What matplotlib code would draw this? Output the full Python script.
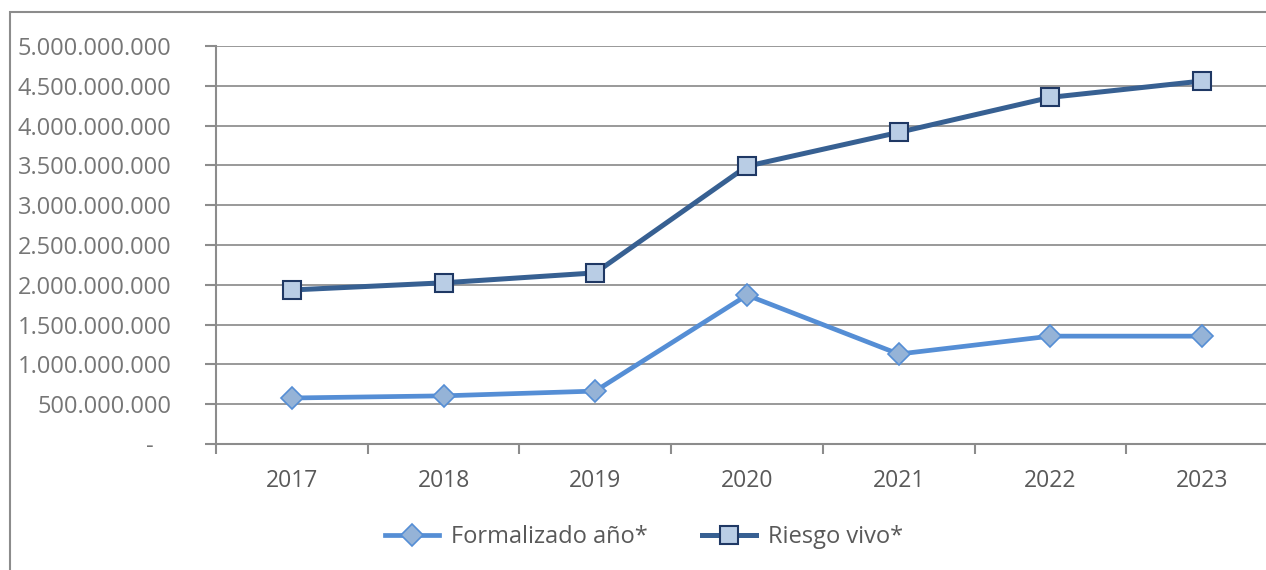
import numpy as np
import matplotlib
matplotlib.use("Agg")
import matplotlib.pyplot as plt
from matplotlib.ticker import FuncFormatter, FixedLocator
from matplotlib.patches import Rectangle

plt.rcParams['font.family'] = ['Open Sans', 'DejaVu Sans']

years = ["2017", "2018", "2019", "2020", "2021", "2022", "2023"]
formalizado = [578e6, 605e6, 665e6, 1870e6, 1130e6, 1355e6, 1355e6]
riesgo_vivo = [1935e6, 2025e6, 2150e6, 3490e6, 3915e6, 4355e6, 4560e6]

W, H = 1266, 570
fig = plt.figure(figsize=(W / 100, H / 100), dpi=100)

# outer chart frame (cropped at right and bottom like the reference)
fig.patches.append(Rectangle((10 / W, -0.1), 1.2, 0.1 + 1 - 12 / H, transform=fig.transFigure,
                             fill=False, edgecolor="#8c8c8c", linewidth=1.5, zorder=0))

ax = fig.add_axes([216 / W, 1 - 444 / H, 1062 / W, (444 - 46) / H])

x = np.arange(len(years))
ax.plot(x, formalizado, color="#558ed5", linewidth=3.4, marker="D", markersize=11.5,
        markerfacecolor="#95b3d7", markeredgecolor="#558ed5", markeredgewidth=1.2,
        label="Formalizado año*", zorder=3)
ax.plot(x, riesgo_vivo, color="#376092", linewidth=3.6, marker="s", markersize=13,
        markerfacecolor="#b9cde5", markeredgecolor="#1f3864", markeredgewidth=1.5,
        label="Riesgo vivo*", zorder=4)

ax.set_xlim(-0.5, len(years) - 0.5)
ax.set_ylim(0, 5e9)
ax.set_yticks(np.arange(0, 5.01e9, 5e8))


def fmt(v, pos):
    if v == 0:
        return "-   "
    return f"{int(round(v)):,}".replace(",", ".")


ax.yaxis.set_major_formatter(FuncFormatter(fmt))
ax.set_xticks(x)
ax.set_xticklabels(years)
ax.xaxis.set_minor_locator(FixedLocator(np.arange(-0.5, len(years), 1.0)))
ax.tick_params(axis="x", which="major", length=0, pad=18, labelsize=16.5, labelcolor="#595959")
ax.tick_params(axis="x", which="minor", length=7, width=1.5, color="#8c8c8c", direction="out")
ax.tick_params(axis="y", length=8, width=1.5, color="#8c8c8c", pad=24, labelsize=17,
               labelcolor="#767676")

ax.grid(axis="y", color="#999999", linewidth=1.4)
ax.set_axisbelow(True)
for side in ["top", "right"]:
    ax.spines[side].set_visible(False)
for side in ["left", "bottom"]:
    ax.spines[side].set_color("#8c8c8c")
    ax.spines[side].set_linewidth(1.5)

leg = fig.legend(loc="center", bbox_to_anchor=(644 / W, 1 - 537 / H), ncol=2, frameon=False,
                 fontsize=17, handlelength=2.3, columnspacing=2.3, handletextpad=0.5)
for t in leg.get_texts():
    t.set_color("#595959")

fig.savefig("out.png", dpi=100)
